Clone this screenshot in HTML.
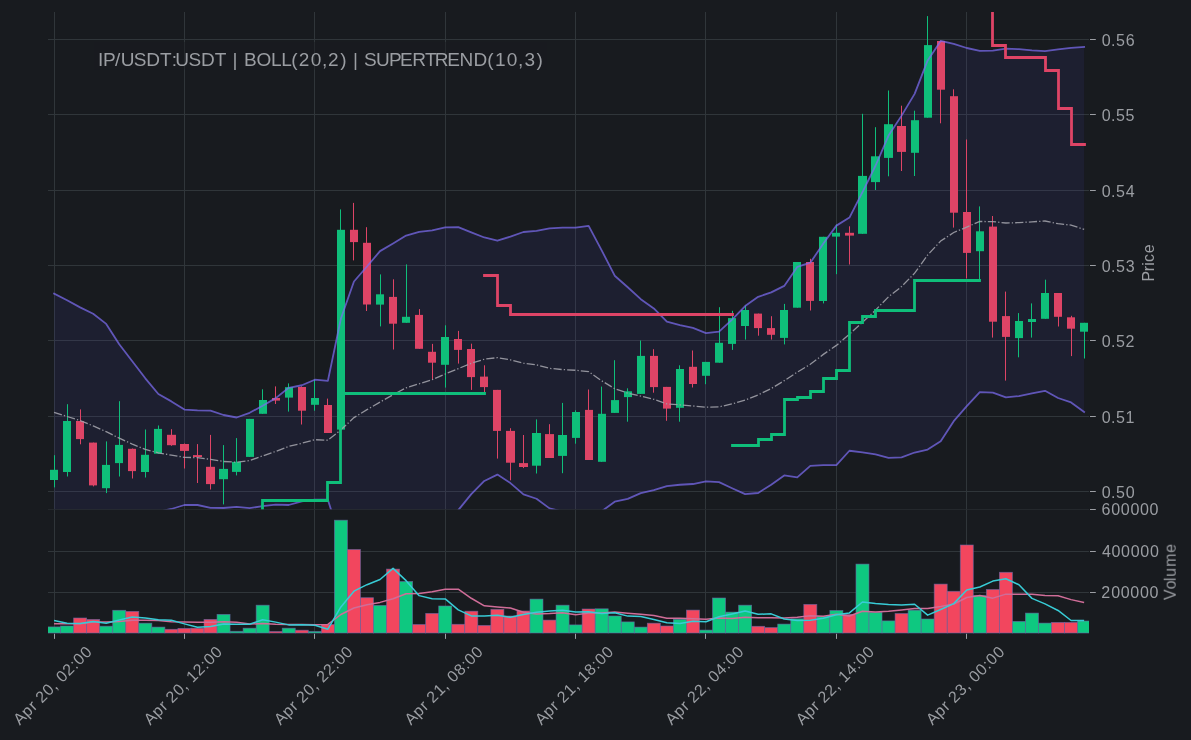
<!DOCTYPE html>
<html><head><meta charset="utf-8"><title>IP/USDT:USDT chart</title>
<style>
html,body{margin:0;padding:0;background:#181b1f;overflow:hidden;}
svg{display:block;}
text{font-family:"Liberation Sans",sans-serif;fill:#9c9fa4;}
</style></head><body>
<svg width="1191" height="740" viewBox="0 0 1191 740">
<rect x="0" y="0" width="1191" height="740" fill="#181b1f"/>
<defs><clipPath id="cm"><rect x="48.0" y="12.0" width="1041.0" height="497.5"/></clipPath><clipPath id="cv"><rect x="48.0" y="509.5" width="1041.0" height="124.39999999999998"/></clipPath></defs>
<g clip-path="url(#cm)">
<path d="M54.5 12.0V509.5M184.5 12.0V509.5M314.5 12.0V509.5M445.5 12.0V509.5M575.5 12.0V509.5M705.5 12.0V509.5M836.5 12.0V509.5M966.5 12.0V509.5M48.0 39.5H1089.0M48.0 114.5H1089.0M48.0 190.5H1089.0M48.0 265.5H1089.0M48.0 340.5H1089.0M48.0 416.5H1089.0M48.0 491.5H1089.0" stroke="#30363a" stroke-width="1" fill="none"/>
<polygon points="54.05,293.6 67.09,300.2 80.13,307.4 93.17,313.7 106.21,323.9 119.24,344.3 132.28,361.3 145.32,378.3 158.36,394 171.4,401.4 184.44,409.6 197.48,410.4 210.52,410.7 223.56,415 236.6,417.5 249.63,412.8 262.67,405.7 275.71,398.1 288.75,387.8 301.79,385.25 314.83,379.72 327.87,380.87 340.91,318.48 353.95,281.49 366.99,266.47 380.02,251.12 393.06,243.55 406.1,235.6 419.14,231.93 432.18,230.36 445.22,227.44 458.26,227.11 471.3,232.45 484.34,237.47 497.38,240.73 510.42,236.62 523.45,231.99 536.49,230.89 549.53,228.33 562.57,227.59 575.61,227.57 588.65,225.94 601.69,250.41 614.73,275.71 627.77,287.23 640.8,299.2 653.84,308.39 666.88,321.66 679.92,325.06 692.96,327.94 706,333.13 719.04,331.56 732.08,319.61 745.12,306.03 758.16,296.84 771.19,292.39 784.23,285.89 797.27,266.94 810.31,262.68 823.35,243.57 836.39,225.62 849.43,217.6 862.47,192.15 875.51,165.75 888.55,135.59 901.58,115.62 914.62,93.87 927.66,60.44 940.7,40.91 953.74,43.77 966.78,48 979.82,50.86 992.86,50.6 1005.9,48.63 1018.94,49.15 1031.97,50.38 1045.01,51.21 1058.05,49.45 1071.09,47.84 1084.13,46.85 1084.13,412 1071.09,402.41 1058.05,398.02 1045.01,390.78 1031.97,393.31 1018.94,396.12 1005.9,397.35 992.86,392.69 979.82,392.07 966.78,406.08 953.74,421.21 940.7,441.2 927.66,449.6 914.62,452.52 901.58,457.46 888.55,457.89 875.51,454.44 862.47,452.42 849.43,450.76 836.39,465.18 823.35,465.15 810.31,465.86 797.27,477.31 784.23,475.46 771.19,484.66 758.16,493 745.12,494.09 732.08,488.22 719.04,482.17 706,481.31 692.96,484.01 679.92,484.76 666.88,486.14 653.84,490.23 640.8,493.08 627.77,498.89 614.73,501.73 601.69,511.23 588.65,517.3 575.61,512.97 562.57,511.55 549.53,508.38 536.49,498.74 523.45,494.4 510.42,483.07 497.38,474.58 484.34,480.94 471.3,494.14 458.26,510.18 445.22,520.56 432.18,529.03 419.14,535.71 406.1,540.05 393.06,545.9 380.02,553.07 366.99,552.78 353.95,553.8 340.91,541.14 327.87,499.68 314.83,499.63 301.79,501.28 288.75,505 275.71,504.7 262.67,506.1 249.63,508.2 236.6,506.9 223.56,508 210.52,507.9 197.48,505 184.44,505 171.4,509 158.36,511.8 145.32,520.5 132.28,526.9 119.24,532.1 106.21,539.5 93.17,538.1 80.13,533.8 67.09,532.8 54.05,531" fill="#5a48d0" fill-opacity="0.095" stroke="none"/>
<path d="M54.5 455.2V487.4" stroke="#0fbe7a" stroke-width="1"/><rect x="50" y="469.8" width="8" height="10.2" fill="#0fbe7a"/>
<path d="M67.5 404.2V476.5" stroke="#0fbe7a" stroke-width="1"/><rect x="63" y="421" width="8" height="51" fill="#0fbe7a"/>
<path d="M80.5 409.4V444.3" stroke="#de4466" stroke-width="1"/><rect x="76" y="421" width="8" height="18.1" fill="#de4466"/>
<path d="M93.5 442.6V486.4" stroke="#de4466" stroke-width="1"/><rect x="89" y="442.6" width="8" height="42.8" fill="#de4466"/>
<path d="M106.5 441.4V493.1" stroke="#0fbe7a" stroke-width="1"/><rect x="102" y="464.9" width="8" height="23.3" fill="#0fbe7a"/>
<path d="M119.5 401.2V476.5" stroke="#0fbe7a" stroke-width="1"/><rect x="115" y="444.9" width="8" height="18.2" fill="#0fbe7a"/>
<path d="M132.5 448.5V478.5" stroke="#de4466" stroke-width="1"/><rect x="128" y="448.8" width="8" height="22.3" fill="#de4466"/>
<path d="M145.5 429.5V477.5" stroke="#0fbe7a" stroke-width="1"/><rect x="141" y="454.8" width="8" height="17.2" fill="#0fbe7a"/>
<path d="M158.5 425.5V453.7" stroke="#0fbe7a" stroke-width="1"/><rect x="154" y="428.9" width="8" height="24.8" fill="#0fbe7a"/>
<path d="M171.5 429.2V445.8" stroke="#de4466" stroke-width="1"/><rect x="167" y="434.8" width="9" height="10.4" fill="#de4466"/>
<path d="M184.5 443.5V468.5" stroke="#de4466" stroke-width="1"/><rect x="180" y="444" width="9" height="6.9" fill="#de4466"/>
<path d="M197.5 444.1V483" stroke="#de4466" stroke-width="1"/><rect x="193" y="455.1" width="9" height="1.9" fill="#de4466"/>
<path d="M210.5 434.9V489.5" stroke="#de4466" stroke-width="1"/><rect x="206" y="466.8" width="9" height="17.3" fill="#de4466"/>
<path d="M223.5 445.1V504.4" stroke="#0fbe7a" stroke-width="1"/><rect x="219" y="468.9" width="9" height="10.3" fill="#0fbe7a"/>
<path d="M236.5 438.1V475.4" stroke="#0fbe7a" stroke-width="1"/><rect x="232" y="461.9" width="9" height="10" fill="#0fbe7a"/>
<path d="M249.5 418.9V456.9" stroke="#0fbe7a" stroke-width="1"/><rect x="246" y="418.9" width="8" height="38" fill="#0fbe7a"/>
<path d="M262.5 389.3V413.8" stroke="#0fbe7a" stroke-width="1"/><rect x="259" y="400" width="8" height="13.8" fill="#0fbe7a"/>
<path d="M275.5 386.4V404" stroke="#de4466" stroke-width="1"/><rect x="272" y="398" width="8" height="2.6" fill="#de4466"/>
<path d="M288.5 383.4V411.6" stroke="#0fbe7a" stroke-width="1"/><rect x="285" y="387.2" width="8" height="10.4" fill="#0fbe7a"/>
<path d="M301.5 386.4V424.5" stroke="#de4466" stroke-width="1"/><rect x="298" y="387" width="8" height="23.7" fill="#de4466"/>
<path d="M314.5 379.5V410.7" stroke="#0fbe7a" stroke-width="1"/><rect x="311" y="398" width="8" height="6.8" fill="#0fbe7a"/>
<path d="M327.5 398.6V433" stroke="#de4466" stroke-width="1"/><rect x="324" y="405" width="8" height="28" fill="#de4466"/>
<path d="M340.5 209.4V429.6" stroke="#0fbe7a" stroke-width="1"/><rect x="337" y="229.8" width="8" height="199.8" fill="#0fbe7a"/>
<path d="M353.5 202.9V260.4" stroke="#de4466" stroke-width="1"/><rect x="350" y="229.8" width="8" height="12.3" fill="#de4466"/>
<path d="M366.5 227.2V311" stroke="#de4466" stroke-width="1"/><rect x="363" y="242.8" width="8" height="61.7" fill="#de4466"/>
<path d="M380.5 274.4V326.4" stroke="#0fbe7a" stroke-width="1"/><rect x="376" y="294.3" width="8" height="10.3" fill="#0fbe7a"/>
<path d="M393.5 279.3V349.5" stroke="#de4466" stroke-width="1"/><rect x="389" y="296.9" width="8" height="26.8" fill="#de4466"/>
<path d="M406.5 264.4V322.8" stroke="#0fbe7a" stroke-width="1"/><rect x="402" y="316.8" width="8" height="6" fill="#0fbe7a"/>
<path d="M419.5 309.1V348.8" stroke="#de4466" stroke-width="1"/><rect x="415" y="314.9" width="8" height="33.9" fill="#de4466"/>
<path d="M432.5 343.9V379.9" stroke="#de4466" stroke-width="1"/><rect x="428" y="351.8" width="8" height="10.9" fill="#de4466"/>
<path d="M445.5 325.3V387.6" stroke="#0fbe7a" stroke-width="1"/><rect x="441" y="337" width="8" height="27.8" fill="#0fbe7a"/>
<path d="M458.5 330.9V363.6" stroke="#de4466" stroke-width="1"/><rect x="454" y="339" width="8" height="10.9" fill="#de4466"/>
<path d="M471.5 343.7V389.9" stroke="#de4466" stroke-width="1"/><rect x="467" y="349" width="8" height="28.1" fill="#de4466"/>
<path d="M484.5 365.3V392" stroke="#de4466" stroke-width="1"/><rect x="480" y="376.6" width="8" height="10.5" fill="#de4466"/>
<path d="M497.5 389.9V458.6" stroke="#de4466" stroke-width="1"/><rect x="493" y="389.9" width="8" height="41" fill="#de4466"/>
<path d="M510.5 428.2V480.3" stroke="#de4466" stroke-width="1"/><rect x="506" y="430.9" width="9" height="31.8" fill="#de4466"/>
<path d="M523.5 435V468.1" stroke="#de4466" stroke-width="1"/><rect x="519" y="463.1" width="9" height="3.9" fill="#de4466"/>
<path d="M536.5 419.4V473.5" stroke="#0fbe7a" stroke-width="1"/><rect x="532" y="433" width="9" height="32.7" fill="#0fbe7a"/>
<path d="M549.5 424.2V458" stroke="#de4466" stroke-width="1"/><rect x="545" y="434.1" width="9" height="23.9" fill="#de4466"/>
<path d="M562.5 402.9V473.2" stroke="#0fbe7a" stroke-width="1"/><rect x="558" y="435" width="9" height="20.9" fill="#0fbe7a"/>
<path d="M575.5 410.3V443.7" stroke="#0fbe7a" stroke-width="1"/><rect x="572" y="412" width="8" height="25.9" fill="#0fbe7a"/>
<path d="M588.5 389.5V460" stroke="#de4466" stroke-width="1"/><rect x="585" y="409.9" width="8" height="50.1" fill="#de4466"/>
<path d="M601.5 386.6V461.8" stroke="#0fbe7a" stroke-width="1"/><rect x="598" y="413.8" width="8" height="48" fill="#0fbe7a"/>
<path d="M614.5 360.2V412.9" stroke="#0fbe7a" stroke-width="1"/><rect x="611" y="400.1" width="8" height="12.8" fill="#0fbe7a"/>
<path d="M627.5 388.3V421.7" stroke="#0fbe7a" stroke-width="1"/><rect x="624" y="391.3" width="8" height="5.8" fill="#0fbe7a"/>
<path d="M640.5 340.5V393.9" stroke="#0fbe7a" stroke-width="1"/><rect x="637" y="355.9" width="8" height="38" fill="#0fbe7a"/>
<path d="M653.5 349.2V392.7" stroke="#de4466" stroke-width="1"/><rect x="650" y="355.9" width="8" height="31.2" fill="#de4466"/>
<path d="M666.5 386.9V420.8" stroke="#de4466" stroke-width="1"/><rect x="663" y="386.9" width="8" height="21.7" fill="#de4466"/>
<path d="M679.5 365.3V421.7" stroke="#0fbe7a" stroke-width="1"/><rect x="676" y="369" width="8" height="38.8" fill="#0fbe7a"/>
<path d="M692.5 350.5V387.5" stroke="#de4466" stroke-width="1"/><rect x="689" y="366.8" width="8" height="17.2" fill="#de4466"/>
<path d="M705.5 361.9V384.2" stroke="#0fbe7a" stroke-width="1"/><rect x="702" y="361.9" width="8" height="13.9" fill="#0fbe7a"/>
<path d="M719.5 307.2V362.7" stroke="#0fbe7a" stroke-width="1"/><rect x="715" y="342.8" width="8" height="19.9" fill="#0fbe7a"/>
<path d="M732.5 310.8V349.9" stroke="#0fbe7a" stroke-width="1"/><rect x="728" y="318.1" width="8" height="25.8" fill="#0fbe7a"/>
<path d="M745.5 305.6V339.6" stroke="#0fbe7a" stroke-width="1"/><rect x="741" y="310" width="8" height="16" fill="#0fbe7a"/>
<path d="M758.5 313.6V335.7" stroke="#de4466" stroke-width="1"/><rect x="754" y="313.6" width="8" height="14.5" fill="#de4466"/>
<path d="M771.5 316.2V339.6" stroke="#de4466" stroke-width="1"/><rect x="767" y="328.1" width="8" height="6.7" fill="#de4466"/>
<path d="M784.5 303.9V344.4" stroke="#0fbe7a" stroke-width="1"/><rect x="780" y="310" width="8" height="27.9" fill="#0fbe7a"/>
<path d="M797.5 262V307.7" stroke="#0fbe7a" stroke-width="1"/><rect x="793" y="262" width="8" height="45.7" fill="#0fbe7a"/>
<path d="M810.5 258.8V310.5" stroke="#de4466" stroke-width="1"/><rect x="806" y="262" width="8" height="38.9" fill="#de4466"/>
<path d="M823.5 236.8V303.4" stroke="#0fbe7a" stroke-width="1"/><rect x="819" y="236.8" width="8" height="64.2" fill="#0fbe7a"/>
<path d="M836.5 224.5V274.2" stroke="#0fbe7a" stroke-width="1"/><rect x="832" y="232.8" width="8" height="3.8" fill="#0fbe7a"/>
<path d="M849.5 226.3V264.5" stroke="#de4466" stroke-width="1"/><rect x="845" y="232.8" width="9" height="2.8" fill="#de4466"/>
<path d="M862.5 113.8V233.8" stroke="#0fbe7a" stroke-width="1"/><rect x="858" y="175.9" width="9" height="57.9" fill="#0fbe7a"/>
<path d="M875.5 127.2V190" stroke="#0fbe7a" stroke-width="1"/><rect x="871" y="156.3" width="9" height="25.8" fill="#0fbe7a"/>
<path d="M888.5 90.5V176.3" stroke="#0fbe7a" stroke-width="1"/><rect x="884" y="124.2" width="9" height="33.7" fill="#0fbe7a"/>
<path d="M901.5 105.7V171" stroke="#de4466" stroke-width="1"/><rect x="897" y="126" width="9" height="25.9" fill="#de4466"/>
<path d="M914.5 110.7V176" stroke="#0fbe7a" stroke-width="1"/><rect x="911" y="120.2" width="8" height="32.6" fill="#0fbe7a"/>
<path d="M927.5 16.1V117.7" stroke="#0fbe7a" stroke-width="1"/><rect x="924" y="45.1" width="8" height="72.6" fill="#0fbe7a"/>
<path d="M940.5 40.7V123.3" stroke="#de4466" stroke-width="1"/><rect x="937" y="41" width="8" height="48.7" fill="#de4466"/>
<path d="M953.5 89.3V227.6" stroke="#de4466" stroke-width="1"/><rect x="950" y="96.2" width="8" height="116.5" fill="#de4466"/>
<path d="M966.5 139.5V278.4" stroke="#de4466" stroke-width="1"/><rect x="963" y="212" width="8" height="40.9" fill="#de4466"/>
<path d="M979.5 206.4V280.1" stroke="#0fbe7a" stroke-width="1"/><rect x="976" y="231.3" width="8" height="19.9" fill="#0fbe7a"/>
<path d="M992.5 216V337.6" stroke="#de4466" stroke-width="1"/><rect x="989" y="226.6" width="8" height="95.1" fill="#de4466"/>
<path d="M1005.5 291.6V380.6" stroke="#de4466" stroke-width="1"/><rect x="1002" y="316.1" width="8" height="20.8" fill="#de4466"/>
<path d="M1018.5 313.1V357.3" stroke="#0fbe7a" stroke-width="1"/><rect x="1015" y="321" width="8" height="17.1" fill="#0fbe7a"/>
<path d="M1031.5 303.4V337.6" stroke="#0fbe7a" stroke-width="1"/><rect x="1028" y="319" width="8" height="3" fill="#0fbe7a"/>
<path d="M1045.5 279.7V318.8" stroke="#0fbe7a" stroke-width="1"/><rect x="1041" y="293" width="8" height="25.8" fill="#0fbe7a"/>
<path d="M1058.5 293V326.5" stroke="#de4466" stroke-width="1"/><rect x="1054" y="293" width="8" height="23.8" fill="#de4466"/>
<path d="M1071.5 315.8V356.1" stroke="#de4466" stroke-width="1"/><rect x="1067" y="317.3" width="8" height="11.4" fill="#de4466"/>
<path d="M1084.5 322.8V358.5" stroke="#0fbe7a" stroke-width="1"/><rect x="1080" y="322.8" width="8" height="8.9" fill="#0fbe7a"/>
<polyline points="54.05,293.6 67.09,300.2 80.13,307.4 93.17,313.7 106.21,323.9 119.24,344.3 132.28,361.3 145.32,378.3 158.36,394 171.4,401.4 184.44,409.6 197.48,410.4 210.52,410.7 223.56,415 236.6,417.5 249.63,412.8 262.67,405.7 275.71,398.1 288.75,387.8 301.79,385.25 314.83,379.72 327.87,380.87 340.91,318.48 353.95,281.49 366.99,266.47 380.02,251.12 393.06,243.55 406.1,235.6 419.14,231.93 432.18,230.36 445.22,227.44 458.26,227.11 471.3,232.45 484.34,237.47 497.38,240.73 510.42,236.62 523.45,231.99 536.49,230.89 549.53,228.33 562.57,227.59 575.61,227.57 588.65,225.94 601.69,250.41 614.73,275.71 627.77,287.23 640.8,299.2 653.84,308.39 666.88,321.66 679.92,325.06 692.96,327.94 706,333.13 719.04,331.56 732.08,319.61 745.12,306.03 758.16,296.84 771.19,292.39 784.23,285.89 797.27,266.94 810.31,262.68 823.35,243.57 836.39,225.62 849.43,217.6 862.47,192.15 875.51,165.75 888.55,135.59 901.58,115.62 914.62,93.87 927.66,60.44 940.7,40.91 953.74,43.77 966.78,48 979.82,50.86 992.86,50.6 1005.9,48.63 1018.94,49.15 1031.97,50.38 1045.01,51.21 1058.05,49.45 1071.09,47.84 1084.13,46.85" fill="none" stroke="#7b6cf0" stroke-opacity="0.72" stroke-width="1.8" stroke-linejoin="round" stroke-linecap="square"/>
<polyline points="54.05,531 67.09,532.8 80.13,533.8 93.17,538.1 106.21,539.5 119.24,532.1 132.28,526.9 145.32,520.5 158.36,511.8 171.4,509 184.44,505 197.48,505 210.52,507.9 223.56,508 236.6,506.9 249.63,508.2 262.67,506.1 275.71,504.7 288.75,505 301.79,501.28 314.83,499.63 327.87,499.68 340.91,541.14 353.95,553.8 366.99,552.78 380.02,553.07 393.06,545.9 406.1,540.05 419.14,535.71 432.18,529.03 445.22,520.56 458.26,510.18 471.3,494.14 484.34,480.94 497.38,474.58 510.42,483.07 523.45,494.4 536.49,498.74 549.53,508.38 562.57,511.55 575.61,512.97 588.65,517.3 601.69,511.23 614.73,501.73 627.77,498.89 640.8,493.08 653.84,490.23 666.88,486.14 679.92,484.76 692.96,484.01 706,481.31 719.04,482.17 732.08,488.22 745.12,494.09 758.16,493 771.19,484.66 784.23,475.46 797.27,477.31 810.31,465.86 823.35,465.15 836.39,465.18 849.43,450.76 862.47,452.42 875.51,454.44 888.55,457.89 901.58,457.46 914.62,452.52 927.66,449.6 940.7,441.2 953.74,421.21 966.78,406.08 979.82,392.07 992.86,392.69 1005.9,397.35 1018.94,396.12 1031.97,393.31 1045.01,390.78 1058.05,398.02 1071.09,402.41 1084.13,412" fill="none" stroke="#7b6cf0" stroke-opacity="0.72" stroke-width="1.8" stroke-linejoin="round" stroke-linecap="square"/>
<polyline points="54.05,412.3 67.09,416.5 80.13,420.6 93.17,425.9 106.21,431.7 119.24,438.2 132.28,444.1 145.32,449.4 158.36,452.9 171.4,455.2 184.44,457.3 197.48,457.7 210.52,459.3 223.56,461.5 236.6,462.2 249.63,460.5 262.67,455.9 275.71,451.4 288.75,446.4 301.79,443.27 314.83,439.68 327.87,440.27 340.91,429.81 353.95,417.64 366.99,409.62 380.02,402.1 393.06,394.73 406.1,387.82 419.14,383.82 432.18,379.7 445.22,374 458.26,368.64 471.3,363.3 484.34,359.21 497.38,357.66 510.42,359.85 523.45,363.2 536.49,364.81 549.53,368.35 562.57,369.57 575.61,370.27 588.65,371.62 601.69,380.82 614.73,388.72 627.77,393.06 640.8,396.14 653.84,399.31 666.88,403.9 679.92,404.91 692.96,405.98 706,407.22 719.04,406.86 732.08,403.92 745.12,400.06 758.16,394.92 771.19,388.53 784.23,380.68 797.27,372.13 810.31,364.27 823.35,354.36 836.39,345.4 849.43,334.18 862.47,322.29 875.51,310.1 888.55,296.74 901.58,286.54 914.62,273.19 927.66,255.02 940.7,241.05 953.74,232.49 966.78,227.04 979.82,221.46 992.86,221.64 1005.9,222.99 1018.94,222.63 1031.97,221.84 1045.01,220.99 1058.05,223.73 1071.09,225.12 1084.13,229.43" fill="none" stroke="#a0a0a8" stroke-opacity="0.9" stroke-width="1.3" stroke-dasharray="8.2 2.1 1.3 2.1"/>
<path d="M249.5 530.5H262.5V500.5H275.5V500.5H288.5V500.5H301.5V500.5H314.5V500.5H327.5V482.5H340.5V393.5H353.5V393.5H366.5V393.5H380.5V393.5H393.5V393.5H406.5V393.5H419.5V393.5H432.5V393.5H445.5V393.5H458.5V393.5H471.5V393.5H484.5V393.5" fill="none" stroke="#0fbe7a" stroke-width="2.8" stroke-linecap="square" stroke-linejoin="miter"/>
<path d="M484.5 275.5H497.5V305.5H510.5V314.5H523.5V314.5H536.5V314.5H549.5V314.5H562.5V314.5H575.5V314.5H588.5V314.5H601.5V314.5H614.5V314.5H627.5V314.5H640.5V314.5H653.5V314.5H666.5V314.5H679.5V314.5H692.5V314.5H705.5V314.5H719.5V314.5H732.5V314.5" fill="none" stroke="#de4466" stroke-width="2.8" stroke-linecap="square" stroke-linejoin="miter"/>
<path d="M732.5 445.5H745.5V445.5H758.5V439.5H771.5V434.5H784.5V399.5H797.5V397.5H810.5V391.5H823.5V378.5H836.5V370.5H849.5V322.5H862.5V316.5H875.5V310.5H888.5V310.5H901.5V310.5H914.5V280.5H927.5V280.5H940.5V280.5H953.5V280.5H966.5V280.5H979.5V280.5" fill="none" stroke="#0fbe7a" stroke-width="2.8" stroke-linecap="square" stroke-linejoin="miter"/>
<path d="M979.5 -29.5H992.5V45.5H1005.5V57.5H1018.5V57.5H1031.5V57.5H1045.5V70.5H1058.5V108.5H1071.5V144.5H1084.5V144.5" fill="none" stroke="#de4466" stroke-width="2.8" stroke-linecap="square" stroke-linejoin="miter"/>
</g>
<g clip-path="url(#cv)">
<path d="M54.5 509.5V633.9M184.5 509.5V633.9M314.5 509.5V633.9M445.5 509.5V633.9M575.5 509.5V633.9M705.5 509.5V633.9M836.5 509.5V633.9M966.5 509.5V633.9M48.0 509.5H1089.0M48.0 551.5H1089.0M48.0 592.5H1089.0" stroke="#30363a" stroke-width="1" fill="none"/>
<rect x="47.55" y="626.9" width="13" height="6.1" fill="#0ec880" stroke="#6a6aa8" stroke-opacity="0.7" stroke-width="0.8"/>
<rect x="60.59" y="626" width="13" height="7" fill="#0ec880" stroke="#6a6aa8" stroke-opacity="0.7" stroke-width="0.8"/>
<rect x="73.63" y="618" width="13" height="15" fill="#f2465e" stroke="#6a6aa8" stroke-opacity="0.7" stroke-width="0.8"/>
<rect x="86.67" y="619.4" width="13" height="13.6" fill="#f2465e" stroke="#6a6aa8" stroke-opacity="0.7" stroke-width="0.8"/>
<rect x="99.71" y="626.2" width="13" height="6.8" fill="#0ec880" stroke="#6a6aa8" stroke-opacity="0.7" stroke-width="0.8"/>
<rect x="112.74" y="610.3" width="13" height="22.7" fill="#0ec880" stroke="#6a6aa8" stroke-opacity="0.7" stroke-width="0.8"/>
<rect x="125.78" y="611.4" width="13" height="21.6" fill="#f2465e" stroke="#6a6aa8" stroke-opacity="0.7" stroke-width="0.8"/>
<rect x="138.82" y="623.2" width="13" height="9.8" fill="#0ec880" stroke="#6a6aa8" stroke-opacity="0.7" stroke-width="0.8"/>
<rect x="151.86" y="627.1" width="13" height="5.9" fill="#0ec880" stroke="#6a6aa8" stroke-opacity="0.7" stroke-width="0.8"/>
<rect x="164.9" y="629.3" width="13" height="3.7" fill="#f2465e" stroke="#6a6aa8" stroke-opacity="0.7" stroke-width="0.8"/>
<rect x="177.94" y="628.4" width="13" height="4.6" fill="#f2465e" stroke="#6a6aa8" stroke-opacity="0.7" stroke-width="0.8"/>
<rect x="190.98" y="628.2" width="13" height="4.8" fill="#f2465e" stroke="#6a6aa8" stroke-opacity="0.7" stroke-width="0.8"/>
<rect x="204.02" y="619.4" width="13" height="13.6" fill="#f2465e" stroke="#6a6aa8" stroke-opacity="0.7" stroke-width="0.8"/>
<rect x="217.06" y="614.4" width="13" height="18.6" fill="#0ec880" stroke="#6a6aa8" stroke-opacity="0.7" stroke-width="0.8"/>
<rect x="230.1" y="631.3" width="13" height="1.7" fill="#0ec880" stroke="#6a6aa8" stroke-opacity="0.7" stroke-width="0.8"/>
<rect x="243.13" y="628.2" width="13" height="4.8" fill="#0ec880" stroke="#6a6aa8" stroke-opacity="0.7" stroke-width="0.8"/>
<rect x="256.17" y="605.2" width="13" height="27.8" fill="#0ec880" stroke="#6a6aa8" stroke-opacity="0.7" stroke-width="0.8"/>
<rect x="269.21" y="631.5" width="13" height="1.5" fill="#f2465e" stroke="#6a6aa8" stroke-opacity="0.7" stroke-width="0.8"/>
<rect x="282.25" y="628.2" width="13" height="4.8" fill="#0ec880" stroke="#6a6aa8" stroke-opacity="0.7" stroke-width="0.8"/>
<rect x="295.29" y="630.2" width="13" height="2.8" fill="#f2465e" stroke="#6a6aa8" stroke-opacity="0.7" stroke-width="0.8"/>
<rect x="308.33" y="631.5" width="13" height="1.5" fill="#0ec880" stroke="#6a6aa8" stroke-opacity="0.7" stroke-width="0.8"/>
<rect x="321.37" y="624.5" width="13" height="8.5" fill="#f2465e" stroke="#6a6aa8" stroke-opacity="0.7" stroke-width="0.8"/>
<rect x="334.41" y="520.2" width="13" height="112.8" fill="#0ec880" stroke="#6a6aa8" stroke-opacity="0.7" stroke-width="0.8"/>
<rect x="347.45" y="549.5" width="13" height="83.5" fill="#f2465e" stroke="#6a6aa8" stroke-opacity="0.7" stroke-width="0.8"/>
<rect x="360.49" y="597.7" width="13" height="35.3" fill="#f2465e" stroke="#6a6aa8" stroke-opacity="0.7" stroke-width="0.8"/>
<rect x="373.52" y="605.4" width="13" height="27.6" fill="#0ec880" stroke="#6a6aa8" stroke-opacity="0.7" stroke-width="0.8"/>
<rect x="386.56" y="569.1" width="13" height="63.9" fill="#f2465e" stroke="#6a6aa8" stroke-opacity="0.7" stroke-width="0.8"/>
<rect x="399.6" y="581.5" width="13" height="51.5" fill="#0ec880" stroke="#6a6aa8" stroke-opacity="0.7" stroke-width="0.8"/>
<rect x="412.64" y="624.5" width="13" height="8.5" fill="#f2465e" stroke="#6a6aa8" stroke-opacity="0.7" stroke-width="0.8"/>
<rect x="425.68" y="613.4" width="13" height="19.6" fill="#f2465e" stroke="#6a6aa8" stroke-opacity="0.7" stroke-width="0.8"/>
<rect x="438.72" y="606" width="13" height="27" fill="#0ec880" stroke="#6a6aa8" stroke-opacity="0.7" stroke-width="0.8"/>
<rect x="451.76" y="624.3" width="13" height="8.7" fill="#f2465e" stroke="#6a6aa8" stroke-opacity="0.7" stroke-width="0.8"/>
<rect x="464.8" y="611.2" width="13" height="21.8" fill="#f2465e" stroke="#6a6aa8" stroke-opacity="0.7" stroke-width="0.8"/>
<rect x="477.84" y="625.4" width="13" height="7.6" fill="#f2465e" stroke="#6a6aa8" stroke-opacity="0.7" stroke-width="0.8"/>
<rect x="490.88" y="609.3" width="13" height="23.7" fill="#f2465e" stroke="#6a6aa8" stroke-opacity="0.7" stroke-width="0.8"/>
<rect x="503.92" y="616" width="13" height="17" fill="#f2465e" stroke="#6a6aa8" stroke-opacity="0.7" stroke-width="0.8"/>
<rect x="516.95" y="611" width="13" height="22" fill="#f2465e" stroke="#6a6aa8" stroke-opacity="0.7" stroke-width="0.8"/>
<rect x="529.99" y="599.1" width="13" height="33.9" fill="#0ec880" stroke="#6a6aa8" stroke-opacity="0.7" stroke-width="0.8"/>
<rect x="543.03" y="620.1" width="13" height="12.9" fill="#f2465e" stroke="#6a6aa8" stroke-opacity="0.7" stroke-width="0.8"/>
<rect x="556.07" y="605.2" width="13" height="27.8" fill="#0ec880" stroke="#6a6aa8" stroke-opacity="0.7" stroke-width="0.8"/>
<rect x="569.11" y="624.9" width="13" height="8.1" fill="#0ec880" stroke="#6a6aa8" stroke-opacity="0.7" stroke-width="0.8"/>
<rect x="582.15" y="609" width="13" height="24" fill="#f2465e" stroke="#6a6aa8" stroke-opacity="0.7" stroke-width="0.8"/>
<rect x="595.19" y="608.8" width="13" height="24.2" fill="#0ec880" stroke="#6a6aa8" stroke-opacity="0.7" stroke-width="0.8"/>
<rect x="608.23" y="616" width="13" height="17" fill="#0ec880" stroke="#6a6aa8" stroke-opacity="0.7" stroke-width="0.8"/>
<rect x="621.27" y="621.9" width="13" height="11.1" fill="#0ec880" stroke="#6a6aa8" stroke-opacity="0.7" stroke-width="0.8"/>
<rect x="634.3" y="627.1" width="13" height="5.9" fill="#0ec880" stroke="#6a6aa8" stroke-opacity="0.7" stroke-width="0.8"/>
<rect x="647.34" y="623.2" width="13" height="9.8" fill="#f2465e" stroke="#6a6aa8" stroke-opacity="0.7" stroke-width="0.8"/>
<rect x="660.38" y="626" width="13" height="7" fill="#f2465e" stroke="#6a6aa8" stroke-opacity="0.7" stroke-width="0.8"/>
<rect x="673.42" y="619.3" width="13" height="13.7" fill="#0ec880" stroke="#6a6aa8" stroke-opacity="0.7" stroke-width="0.8"/>
<rect x="686.46" y="610.1" width="13" height="22.9" fill="#f2465e" stroke="#6a6aa8" stroke-opacity="0.7" stroke-width="0.8"/>
<rect x="699.5" y="630.1" width="13" height="2.9" fill="#0ec880" stroke="#6a6aa8" stroke-opacity="0.7" stroke-width="0.8"/>
<rect x="712.54" y="598" width="13" height="35" fill="#0ec880" stroke="#6a6aa8" stroke-opacity="0.7" stroke-width="0.8"/>
<rect x="725.58" y="612.1" width="13" height="20.9" fill="#0ec880" stroke="#6a6aa8" stroke-opacity="0.7" stroke-width="0.8"/>
<rect x="738.62" y="605.2" width="13" height="27.8" fill="#0ec880" stroke="#6a6aa8" stroke-opacity="0.7" stroke-width="0.8"/>
<rect x="751.66" y="626.3" width="13" height="6.7" fill="#f2465e" stroke="#6a6aa8" stroke-opacity="0.7" stroke-width="0.8"/>
<rect x="764.69" y="627.6" width="13" height="5.4" fill="#f2465e" stroke="#6a6aa8" stroke-opacity="0.7" stroke-width="0.8"/>
<rect x="777.73" y="624.1" width="13" height="8.9" fill="#0ec880" stroke="#6a6aa8" stroke-opacity="0.7" stroke-width="0.8"/>
<rect x="790.77" y="618.8" width="13" height="14.2" fill="#0ec880" stroke="#6a6aa8" stroke-opacity="0.7" stroke-width="0.8"/>
<rect x="803.81" y="604.4" width="13" height="28.6" fill="#f2465e" stroke="#6a6aa8" stroke-opacity="0.7" stroke-width="0.8"/>
<rect x="816.85" y="616.3" width="13" height="16.7" fill="#0ec880" stroke="#6a6aa8" stroke-opacity="0.7" stroke-width="0.8"/>
<rect x="829.89" y="610.5" width="13" height="22.5" fill="#0ec880" stroke="#6a6aa8" stroke-opacity="0.7" stroke-width="0.8"/>
<rect x="842.93" y="614.5" width="13" height="18.5" fill="#f2465e" stroke="#6a6aa8" stroke-opacity="0.7" stroke-width="0.8"/>
<rect x="855.97" y="564.1" width="13" height="68.9" fill="#0ec880" stroke="#6a6aa8" stroke-opacity="0.7" stroke-width="0.8"/>
<rect x="869.01" y="612.3" width="13" height="20.7" fill="#0ec880" stroke="#6a6aa8" stroke-opacity="0.7" stroke-width="0.8"/>
<rect x="882.05" y="620.9" width="13" height="12.1" fill="#0ec880" stroke="#6a6aa8" stroke-opacity="0.7" stroke-width="0.8"/>
<rect x="895.08" y="613.5" width="13" height="19.5" fill="#f2465e" stroke="#6a6aa8" stroke-opacity="0.7" stroke-width="0.8"/>
<rect x="908.12" y="610.2" width="13" height="22.8" fill="#0ec880" stroke="#6a6aa8" stroke-opacity="0.7" stroke-width="0.8"/>
<rect x="921.16" y="619" width="13" height="14" fill="#0ec880" stroke="#6a6aa8" stroke-opacity="0.7" stroke-width="0.8"/>
<rect x="934.2" y="584.1" width="13" height="48.9" fill="#f2465e" stroke="#6a6aa8" stroke-opacity="0.7" stroke-width="0.8"/>
<rect x="947.24" y="591.3" width="13" height="41.7" fill="#f2465e" stroke="#6a6aa8" stroke-opacity="0.7" stroke-width="0.8"/>
<rect x="960.28" y="545" width="13" height="88" fill="#f2465e" stroke="#6a6aa8" stroke-opacity="0.7" stroke-width="0.8"/>
<rect x="973.32" y="595.6" width="13" height="37.4" fill="#0ec880" stroke="#6a6aa8" stroke-opacity="0.7" stroke-width="0.8"/>
<rect x="986.36" y="589.5" width="13" height="43.5" fill="#f2465e" stroke="#6a6aa8" stroke-opacity="0.7" stroke-width="0.8"/>
<rect x="999.4" y="572.3" width="13" height="60.7" fill="#f2465e" stroke="#6a6aa8" stroke-opacity="0.7" stroke-width="0.8"/>
<rect x="1012.44" y="621.4" width="13" height="11.6" fill="#0ec880" stroke="#6a6aa8" stroke-opacity="0.7" stroke-width="0.8"/>
<rect x="1025.47" y="613.1" width="13" height="19.9" fill="#0ec880" stroke="#6a6aa8" stroke-opacity="0.7" stroke-width="0.8"/>
<rect x="1038.51" y="623.1" width="13" height="9.9" fill="#0ec880" stroke="#6a6aa8" stroke-opacity="0.7" stroke-width="0.8"/>
<rect x="1051.55" y="622.4" width="13" height="10.6" fill="#f2465e" stroke="#6a6aa8" stroke-opacity="0.7" stroke-width="0.8"/>
<rect x="1064.59" y="622.4" width="13" height="10.6" fill="#f2465e" stroke="#6a6aa8" stroke-opacity="0.7" stroke-width="0.8"/>
<rect x="1077.63" y="621" width="13" height="12" fill="#0ec880" stroke="#6a6aa8" stroke-opacity="0.7" stroke-width="0.8"/>
<polyline points="54.05,623.8 67.09,623.8 80.13,623.8 93.17,622.1 106.21,622.1 119.24,621.5 132.28,620.2 145.32,620.2 158.36,620.5 171.4,621.78 184.44,621.93 197.48,622.15 210.52,622.29 223.56,621.79 236.6,622.3 249.63,624.09 262.67,623.47 275.71,624.3 288.75,624.41 301.79,624.5 314.83,624.81 327.87,624.44 340.91,614.52 353.95,608.03 366.99,604.67 380.02,602.39 393.06,598.78 406.1,593.78 419.14,593.41 432.18,591.73 445.22,589.18 458.26,589.16 471.3,598.26 484.34,605.85 497.38,607.01 510.42,608.07 523.45,612.26 536.49,614.02 549.53,613.58 562.57,612.76 575.61,614.65 588.65,613.12 601.69,612.88 614.73,611.94 627.77,613.2 640.8,614.31 653.84,615.53 666.88,618.22 679.92,618.14 692.96,618.63 706,619.15 719.04,618.05 732.08,618.38 745.12,617.3 758.16,617.74 771.19,617.79 784.23,617.88 797.27,617.16 810.31,615.67 823.35,616.29 836.39,614.33 849.43,615.98 862.47,611.18 875.51,611.89 888.55,611.35 901.58,609.94 914.62,608.55 927.66,608.57 940.7,606.54 953.74,604.04 966.78,597.49 979.82,595.6 992.86,598.14 1005.9,594.14 1018.94,594.19 1031.97,594.15 1045.01,595.44 1058.05,595.78 1071.09,599.61 1084.13,602.58" fill="none" stroke="#cf6d98" stroke-width="1.5" stroke-linejoin="round"/>
<polyline points="54.05,620.5 67.09,623.2 80.13,623.5 93.17,621.6 106.21,623.3 119.24,619.98 132.28,617.06 145.32,618.1 158.36,619.64 171.4,620.26 184.44,623.88 197.48,627.24 210.52,626.48 223.56,623.94 236.6,624.34 249.63,624.3 262.67,619.7 275.71,622.12 288.75,624.88 301.79,624.66 314.83,625.32 327.87,629.18 340.91,606.92 353.95,591.18 366.99,584.68 380.02,579.46 393.06,568.38 406.1,580.64 419.14,595.64 432.18,598.78 445.22,598.9 458.26,609.94 471.3,615.88 484.34,616.06 497.38,615.24 510.42,617.24 523.45,614.58 536.49,612.16 549.53,611.1 562.57,610.28 575.61,612.06 588.65,611.66 601.69,613.6 614.73,612.78 627.77,616.12 640.8,616.56 653.84,619.4 666.88,622.84 679.92,623.5 692.96,621.14 706,621.74 719.04,616.7 732.08,613.92 745.12,611.1 758.16,614.34 771.19,613.84 784.23,619.06 797.27,620.4 810.31,620.24 823.35,618.24 836.39,614.82 849.43,612.9 862.47,601.96 875.51,603.54 888.55,604.46 901.58,605.06 914.62,604.2 927.66,615.18 940.7,609.54 953.74,603.62 966.78,589.92 979.82,587 992.86,581.1 1005.9,578.74 1018.94,584.76 1031.97,598.38 1045.01,603.88 1058.05,610.46 1071.09,620.48 1084.13,620.4" fill="none" stroke="#38ccd6" stroke-width="1.5" stroke-linejoin="round"/>
</g>
<path d="M1090 39.5h5.8M1090 114.5h5.8M1090 190.5h5.8M1090 265.5h5.8M1090 340.5h5.8M1090 416.5h5.8M1090 491.5h5.8M1090 509.5h5.8M1090 551.5h5.8M1090 592.5h5.8M54.5 633.9v5M184.5 633.9v5M314.5 633.9v5M445.5 633.9v5M575.5 633.9v5M705.5 633.9v5M836.5 633.9v5M966.5 633.9v5" stroke="#9c9fa4" stroke-width="1" fill="none"/>
<rect x="94" y="42" width="453" height="27.5" fill="#181b1f" fill-opacity="0.45"/>
<g opacity="0.995">
<text x="1101.65 1111.07 1115.99 1125.66" y="46.35" font-size="16.04">0.56</text>
<text x="1101.65 1111.07 1115.99 1125.6" y="121.35" font-size="16.04">0.55</text>
<text x="1101.65 1111.07 1115.99 1125.66" y="197.35" font-size="16.04">0.54</text>
<text x="1101.65 1111.07 1115.99 1125.68" y="272.35" font-size="16.04">0.53</text>
<text x="1101.65 1111.07 1115.99 1125.46" y="347.35" font-size="16.04">0.52</text>
<text x="1101.65 1111.07 1115.99 1125.58" y="423.35" font-size="16.04">0.51</text>
<text x="1101.65 1111.07 1115.99 1125.66" y="498.35" font-size="16.04">0.50</text>
<text x="1101.58 1111.19 1120.8 1130.41 1140.02 1149.62" y="515.45" font-size="16.04">600000</text>
<text x="1101.9 1111.51 1121.12 1130.73 1140.33 1149.94" y="557.45" font-size="16.04">400000</text>
<text x="1101.34 1111.15 1120.76 1130.36 1139.97 1149.58" y="598.45" font-size="16.04">200000</text>
<g transform="translate(1153.9 281.08) rotate(-90)"><text x="-0.54 9.82 15.37 19.21 27.76" y="0" font-size="16.04">Price</text>
</g>
<g transform="translate(1175.7 599.82) rotate(-90)"><text x="-0.18 10.49 18.71 22.88 32.88 47.09" y="0" font-size="16.04">Volume</text>
</g>
<text x="98.11 102.98 115.02 120.63 133.83 146.16 159.9 171.78 175.36 188.56 200.89 214.63 226.06 232.53 238.11 243.89 256.42 270.96 281.21 291.18 298.73 310.68 321.92 327.99 340.28 346.56 353.04 358.61 364.05 376 389.12 400.11 412.14 424.93 434.83 447.21 459.42 473.44 487.3 495 506.8 518.04 524.38 536.4" y="65.9" font-size="19.04">IP/USDT:USDT | BOLL(20,2) | SUPERTREND(10,3)</text>
<g transform="translate(19.95 725.7) rotate(-45)"><text x="-0.18 10.76 20.63 26.12 31.06 40.87 50.15 54.94 60.08 69.48 79.27 84.38 93.99" y="0" font-size="16.04">Apr 20, 02:00</text>
</g>
<g transform="translate(150.34 725.7) rotate(-45)"><text x="-0.18 10.76 20.63 26.12 31.06 40.87 50.15 54.94 60 69.48 79.27 84.38 93.99" y="0" font-size="16.04">Apr 20, 12:00</text>
</g>
<g transform="translate(280.73 725.7) rotate(-45)"><text x="-0.18 10.76 20.63 26.12 31.06 40.87 50.15 54.94 59.88 69.48 79.27 84.38 93.99" y="0" font-size="16.04">Apr 20, 22:00</text>
</g>
<g transform="translate(411.12 725.7) rotate(-45)"><text x="-0.18 10.76 20.63 26.12 31.06 40.79 50.15 54.94 60.08 69.69 79.27 84.38 93.99" y="0" font-size="16.04">Apr 21, 08:00</text>
</g>
<g transform="translate(541.51 725.7) rotate(-45)"><text x="-0.18 10.76 20.63 26.12 31.06 40.79 50.15 54.94 60 69.69 79.27 84.38 93.99" y="0" font-size="16.04">Apr 21, 18:00</text>
</g>
<g transform="translate(671.9 725.7) rotate(-45)"><text x="-0.18 10.76 20.63 26.12 31.06 40.67 50.15 54.94 60.08 69.68 79.27 84.38 93.99" y="0" font-size="16.04">Apr 22, 04:00</text>
</g>
<g transform="translate(802.29 725.7) rotate(-45)"><text x="-0.18 10.76 20.63 26.12 31.06 40.67 50.15 54.94 60 69.68 79.27 84.38 93.99" y="0" font-size="16.04">Apr 22, 14:00</text>
</g>
<g transform="translate(932.68 725.7) rotate(-45)"><text x="-0.18 10.76 20.63 26.12 31.06 40.89 50.15 54.94 60.08 69.69 79.27 84.38 93.99" y="0" font-size="16.04">Apr 23, 00:00</text>
</g>
</g>
</svg>
</body></html>
